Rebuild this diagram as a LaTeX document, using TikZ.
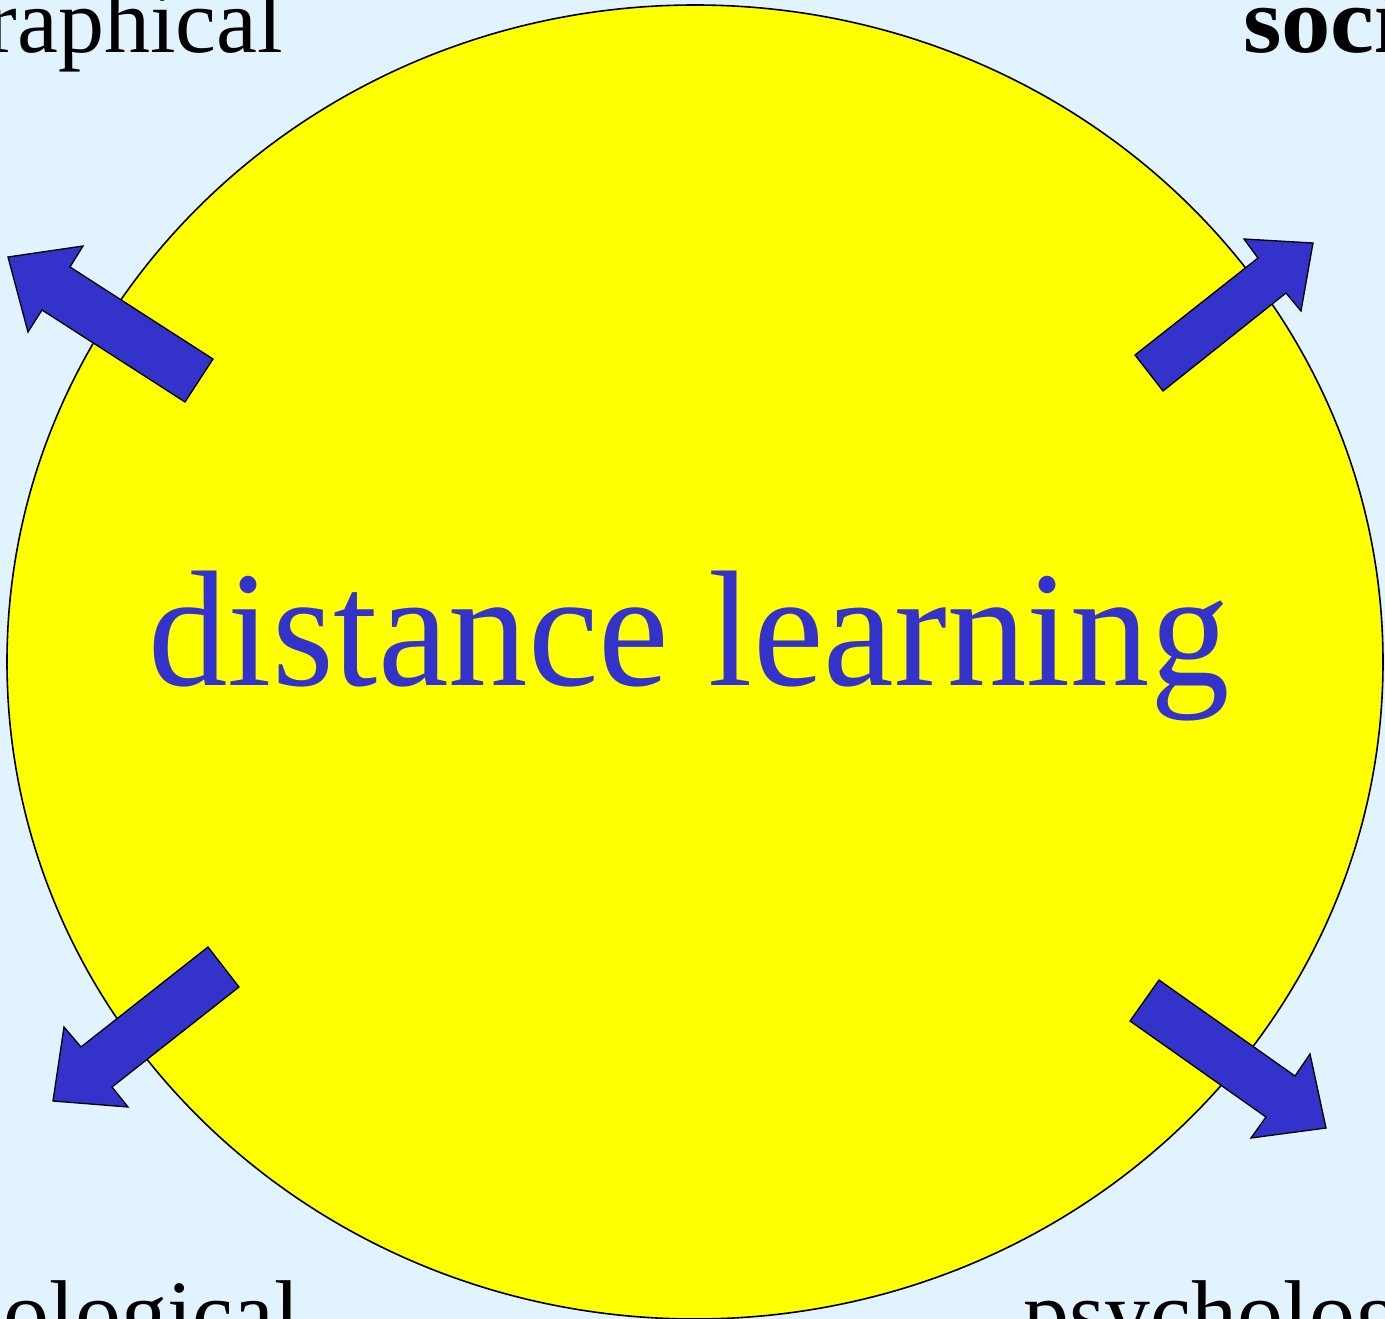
\documentclass[tikz,border=0pt]{standalone}
\usepackage{fontspec}
\setmainfont{Liberation Serif}
\usepackage{tikz}
\definecolor{skyback}{RGB}{224,243,255}
\definecolor{sunyellow}{RGB}{255,255,0}
\definecolor{arrowblue}{RGB}{51,51,204}

\begin{document}
\begin{tikzpicture}[x=1pt, y=-1pt,
    sidetext/.style={font=\fontsize{92}{100}\selectfont, inner sep=0pt},
    blockarrow/.style={fill=arrowblue, draw=black, line width=1.3pt, line join=miter}]
    % background
    \path[use as bounding box, fill=skyback] (0,0) rectangle (1385,1319);
    \clip (0,0) rectangle (1385,1319);

    % disc
    \draw[fill=sunyellow, line width=1.6pt] (695,662) ellipse [x radius=688, y radius=657];
    \node[text=arrowblue, font=\fontsize{165}{180}\selectfont, inner sep=0pt, xscale=0.963, anchor=base] (dl) at (689,685) {distance learning};

    % corner labels
    \node[sidetext, anchor=base east] (geo) at (283,53) {geographical};
    \node[sidetext, font=\fontsize{94}{100}\selectfont\bfseries, xscale=1.05, anchor=base west] (soc) at (1243,53) {social};
    \node[sidetext, anchor=base east] (tech) at (300,1344) {technological};
    \node[sidetext, anchor=base west] (psy) at (1023,1344) {psychological};

    % arrows
    \draw[blockarrow] (8,257) -- (83,246) -- (70,267) -- (213,359) -- (185,402) -- (42,310) -- (28,332) -- cycle;
    \draw[blockarrow] (1313,243) -- (1301,311) -- (1286,293) -- (1163,391) -- (1135,355) -- (1258,258) -- (1244,239) -- cycle;
    \draw[blockarrow] (53,1101) -- (64,1027) -- (81,1047) -- (208,947) -- (239,987) -- (112,1087) -- (128,1107) -- cycle;
    \draw[blockarrow] (1326,1128) -- (1251,1138) -- (1266,1117) -- (1130,1021) -- (1159,980) -- (1295,1076) -- (1310,1054) -- cycle;
\end{tikzpicture}
\end{document}
